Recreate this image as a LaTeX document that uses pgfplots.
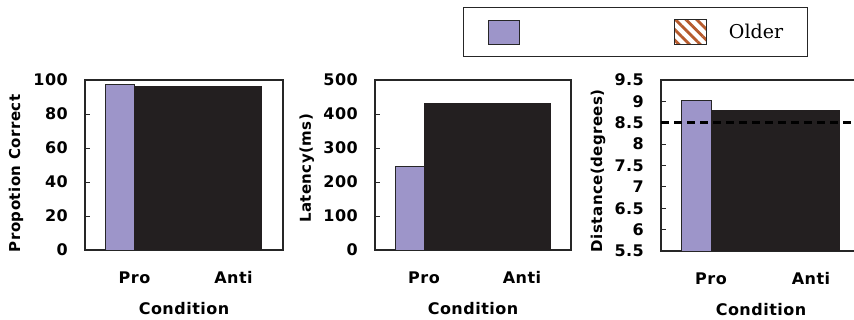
\documentclass[border=0pt]{standalone}
\usepackage{pgfplots}
\pgfplotsset{compat=1.18}
\usepackage{fontspec}
\usetikzlibrary{patterns.meta}
\setmainfont{DejaVu Sans}
\newfontfamily\gfont[LetterSpace=3]{DejaVu Sans}
\newfontfamily\lfont{DejaVu Serif}
\definecolor{barpurple}{HTML}{9D95C9}
\definecolor{blk}{HTML}{231F20}
\definecolor{hatchbrown}{HTML}{B65A2C}
\pgfplotsset{
 panel/.style={
  scale only axis, anchor=south west,
  xmin=-0.5, xmax=1.5,
  xtick={0,1}, xticklabels={Pro,Anti},
  xtick style={draw=none},
  ytick pos=left,
  axis line style={line width=1.2pt, draw=black!85},
  ytick style={line width=0.8pt, draw=black!85},
  major tick length=5pt,
  tick label style={font=\gfont\bfseries\fontsize{16}{16}\selectfont},
  /pgf/number format/assume math mode=true,
  yticklabel style={anchor=east, inner sep=0pt, xshift=-17pt},
  xticklabel style={anchor=base, inner sep=0pt, yshift=-34pt},
  xlabel={Condition},
  xlabel style={font=\gfont\bfseries\fontsize{16}{16}\selectfont, at={(axis description cs:0.5,0)}, anchor=base, inner sep=0pt, yshift=-65pt},
  ylabel style={font=\gfont\bfseries\fontsize{15}{15}\selectfont, anchor=base, inner sep=0pt},
 },
 purplebar/.style={ybar, bar width=0.293, bar shift=0pt, fill=barpurple, draw=black!85, line width=0.8pt},
 blackbar/.style={ybar, bar width=1.285, bar shift=0pt, fill=blk, draw=blk, line width=0.5pt},
}
\begin{document}
\begin{tikzpicture}
\useasboundingbox (0pt,0pt) rectangle (854pt,320pt);
\clip (0pt,0pt) rectangle (854pt,320pt);
% Panel 1
\begin{axis}[panel, at={(85pt,70pt)}, width=198pt, height=170pt,
  ymin=0, ymax=100, ytick={0,20,40,60,80,100},
  ylabel={Propotion Correct},
  ylabel style={at={(axis description cs:-0.328,0.45)}}]
\addplot[purplebar] coordinates {(-0.1465,97.6)};
\addplot[blackbar] coordinates {(0.6425,96.5)};
\end{axis}
% Panel 2
\begin{axis}[panel, at={(375pt,70pt)}, width=196pt, height=170pt,
  ymin=0, ymax=500, ytick={0,100,200,300,400,500},
  ylabel={Latency(ms)},
  ylabel style={at={(axis description cs:-0.327,0.48)}},
  legend columns=2,
  legend style={at={(axis description cs:0.449,1.429)}, anchor=north west,
    draw=black!85, line width=1.2pt, inner sep=0pt, column sep=0pt, row sep=0pt,
    font=\lfont\fontsize{19}{19}\selectfont, nodes={inner sep=0pt, draw=none}, cells={anchor=west}}]
\addplot[purplebar, forget plot] coordinates {(-0.1465,247)};
\addplot[blackbar, forget plot] coordinates {(0.6465,432)};
\addlegendimage{legend image code/.code={
  \path[draw=none, fill=none, pattern=none] (-25pt,-24.5pt) rectangle (31pt,24.5pt);
  \draw[fill=barpurple, draw=black!85, line width=0.9pt] (0pt,-12pt) rectangle (31pt,12pt);}}
\addlegendentry{\hspace*{154pt}}
\addlegendimage{legend image code/.code={
  \path[draw=none, fill=none] (0pt,-24.5pt) rectangle (32pt,24.5pt);
  \draw[pattern={Lines[angle=-45,distance=7.5pt,line width=2.8pt]}, pattern color=hatchbrown, draw=black!85, line width=0.9pt] (0pt,-12.5pt) rectangle (32pt,12.5pt);}}
\addlegendentry{\hspace*{22pt}Older\hspace*{24pt}}
\end{axis}
% Panel 3
\begin{axis}[panel, at={(661pt,69pt)}, width=200pt, height=171pt,
  ymin=5.5, ymax=9.5, ytick={5.5,6,6.5,7,7.5,8,8.5,9,9.5},
  ylabel={Distance(degrees)},
  ylabel style={at={(axis description cs:-0.295,0.47)}}]
\addplot[purplebar, bar width=0.30] coordinates {(-0.15,9.03)};
\addplot[blackbar, bar width=1.28] coordinates {(0.64,8.80)};
\addplot[black, line width=2.5pt, dash pattern=on 8pt off 5pt] coordinates {(-0.5,8.5) (1.5,8.5)};
\end{axis}
\end{tikzpicture}
\end{document}
